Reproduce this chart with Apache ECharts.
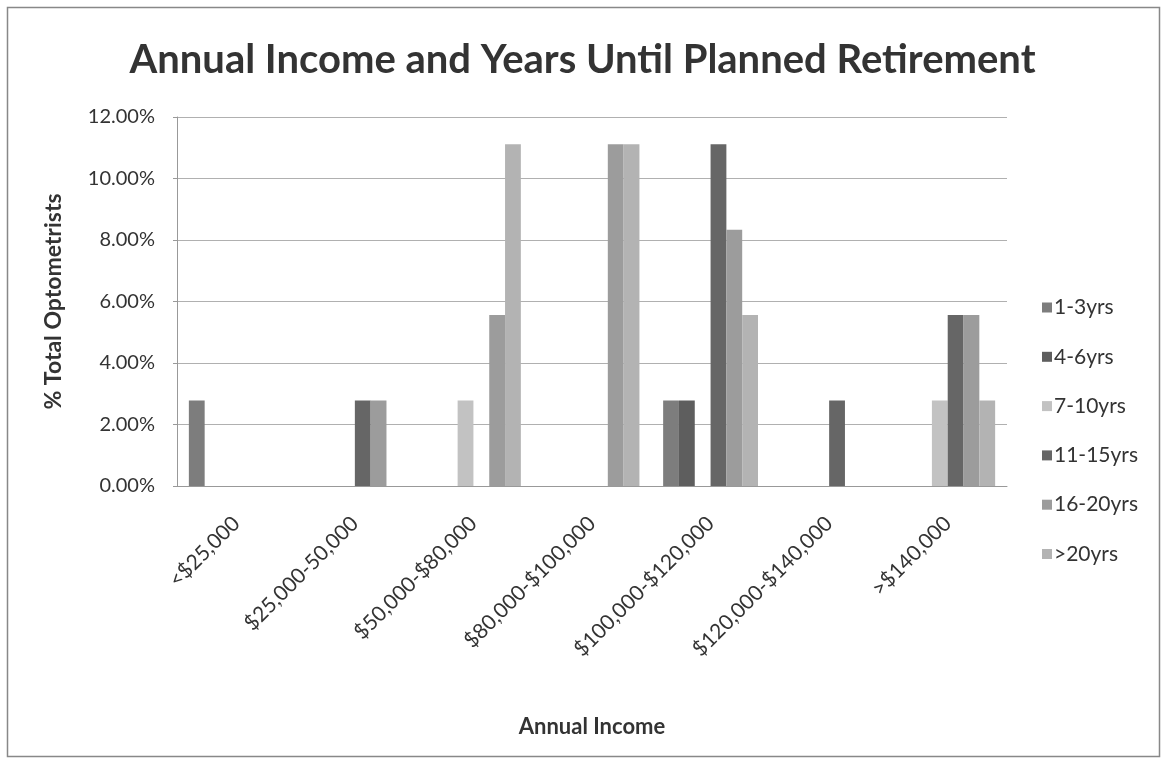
<!DOCTYPE html>
<html>
<head>
<meta charset="utf-8">
<script src="https://cdn.jsdelivr.net/npm/echarts@6/dist/echarts.min.js"></script>
<style>
html,body{margin:0;padding:0;background:#fff;}
#chart{width:1165px;height:767px;}
</style>
</head>
<body>
<div id="chart"></div>
<script>
const categories = ['<$25,000','$25,000-50,000','$50,000-$80,000','$80,000-$100,000','$100,000-$120,000','$120,000-$140,000','>$140,000'];
const seriesNames = ['1-3yrs','4-6yrs','7-10yrs','11-15yrs','16-20yrs','>20yrs'];
const yrs1to3   = [2.78, 0, 0, 0, 2.78, 0, 0];
const yrs4to6   = [0, 0, 0, 0, 2.78, 0, 0];
const yrs7to10  = [0, 0, 2.78, 0, 0, 0, 2.78];
const yrs11to15 = [0, 2.78, 0, 0, 11.11, 2.78, 5.56];
const yrs16to20 = [0, 2.78, 5.56, 11.11, 8.33, 0, 5.56];
const yrsOver20 = [0, 0, 11.11, 11.11, 5.56, 0, 2.78];
const yTicks = [0, 2, 4, 6, 8, 10, 12];

const seriesData = [yrs1to3, yrs4to6, yrs7to10, yrs11to15, yrs16to20, yrsOver20];
const colors = ['#7d7d7d', '#5e5e5e', '#c2c2c2', '#666666', '#9c9c9c', '#b3b3b3'];
const font = "Lato, 'Liberation Sans', sans-serif";

const chart = echarts.init(document.getElementById('chart'), null, {renderer: 'canvas'});
chart.setOption({
  backgroundColor: '#fff',
  animation: false,
  color: colors,
  title: {
    text: 'Annual Income and Years Until Planned Retirement',
    left: 'center',
    top: 35,
    textStyle: {fontFamily: font, fontSize: 40, fontWeight: 'bold', color: '#333'}
  },
  legend: {
    orient: 'vertical',
    left: 1042,
    top: 297,
    padding: 0,
    itemWidth: 10,
    itemHeight: 10,
    itemGap: 28.3,
    icon: 'rect',
    data: seriesNames,
    textStyle: {fontFamily: font, fontSize: 21, color: '#333', lineHeight: 20, padding: [0,0,0,-3]}
  },
  grid: {left: 177, right: 158, top: 117, bottom: 281, containLabel: false},
  xAxis: {
    type: 'category',
    data: categories,
    name: 'Annual Income',
    nameLocation: 'middle',
    nameGap: 230,
    nameTextStyle: {fontFamily: font, fontSize: 22, fontWeight: 'bold', color: '#333'},
    axisLine: {lineStyle: {color: '#999'}},
    axisTick: {show: false},
    axisLabel: {rotate: 45, margin: 34, fontFamily: font, fontSize: 21, color: '#333', interval: 0}
  },
  yAxis: {
    type: 'value',
    min: 0, max: 12, interval: 2,
    name: '% Total Optometrists',
    nameLocation: 'middle',
    nameGap: 112,
    nameTextStyle: {fontFamily: font, fontSize: 23, fontWeight: 'bold', color: '#333'},
    axisLine: {show: true, lineStyle: {color: '#999'}},
    axisTick: {show: true, length: 4, lineStyle: {color: '#999'}},
    axisLabel: {margin: 22, fontFamily: font, fontSize: 20, color: '#333',
      formatter: v => yTicks.includes(v) ? v.toFixed(2) + '%' : ''},
    splitLine: {show: true, lineStyle: {color: '#b0b0b0', width: 1}}
  },
  series: seriesData.map((d, i) => ({
    name: seriesNames[i],
    type: 'bar',
    data: d,
    barGap: '0%',
    barCategoryGap: '20%',
    itemStyle: {color: colors[i]}
  })),
  graphic: [
    {type: 'rect', shape: {x: 7.5, y: 7.5, width: 1152, height: 749},
     style: {fill: 'none', stroke: '#888', lineWidth: 1.5}, silent: true}
  ]
});
</script>
</body>
</html>
